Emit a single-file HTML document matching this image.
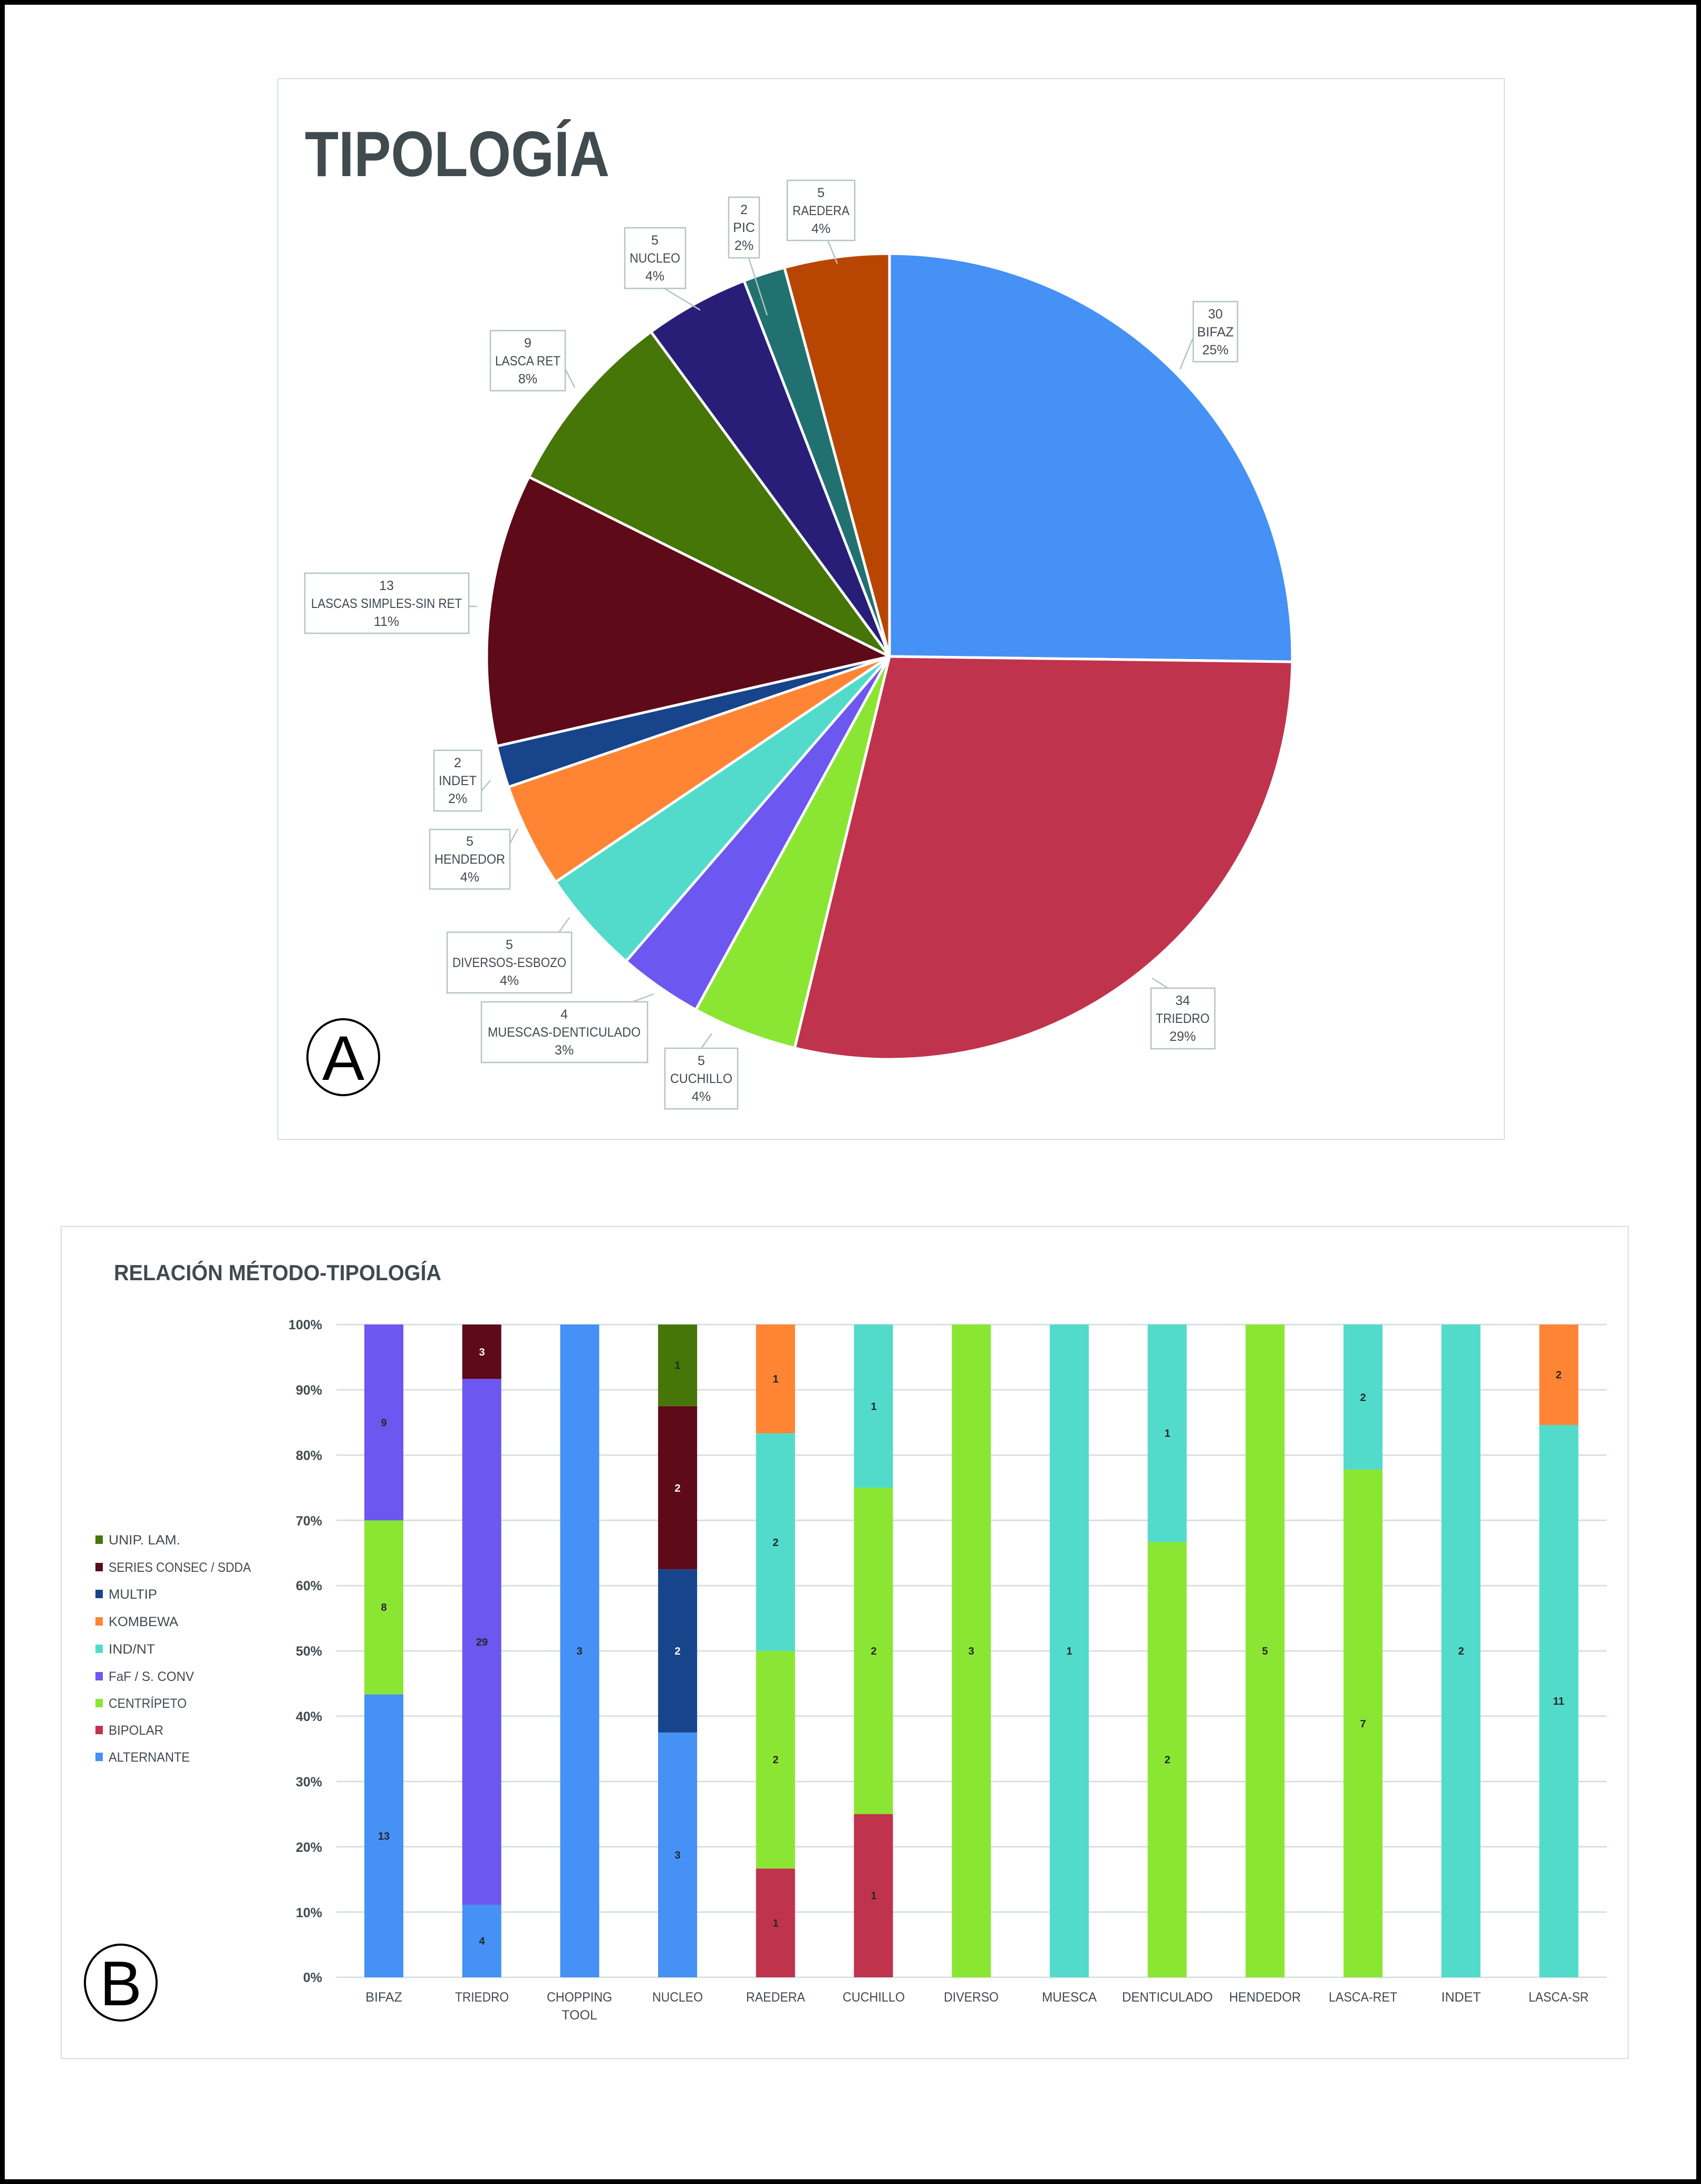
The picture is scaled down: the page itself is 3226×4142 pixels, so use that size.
<!DOCTYPE html>
<html><head><meta charset="utf-8"><style>
html,body{margin:0;padding:0;background:#fff}
svg{display:block}
.t{font-family:"Liberation Sans",sans-serif;fill:#404a4f}
.lb{font-family:"Liberation Sans",sans-serif;font-size:25px;fill:#404a4f;text-anchor:middle}
.bl{font-family:"Liberation Sans",sans-serif;font-size:20px;font-weight:bold;fill:#262626;text-anchor:middle}
.ax{font-family:"Liberation Sans",sans-serif;font-size:25px;font-weight:bold;fill:#404a4f}
</style></head><body>
<svg id="s" width="3226" height="4142" viewBox="0 0 3226 4142" xmlns="http://www.w3.org/2000/svg">
<rect x="4.5" y="4.5" width="3217" height="4133" fill="#fff" stroke="#000" stroke-width="9"/>
<rect x="527" y="149" width="2326" height="2012" fill="#fff" stroke="#d6dede" stroke-width="2"/>
<text class="t" x="578" y="334" font-size="122" font-weight="bold" textLength="578" lengthAdjust="spacingAndGlyphs">TIPOLOGÍA</text>
<g id="pie" stroke="#fff" stroke-width="5"></g>
<g fill="#fff" stroke="#b4c4c4" stroke-width="2.5" id="boxes">
<rect x="2263" y="572" width="84" height="114"/>
<rect x="2183" y="1874" width="121" height="115"/>
<rect x="1261" y="1988" width="138" height="115"/>
<rect x="913" y="1900" width="315" height="115"/>
<rect x="848" y="1768" width="236" height="115"/>
<rect x="815" y="1573" width="152" height="113"/>
<rect x="823" y="1423" width="90" height="115"/>
<rect x="578" y="1087" width="311" height="114"/>
<rect x="930" y="627" width="142" height="114"/>
<rect x="1185" y="432" width="115" height="115"/>
<rect x="1382" y="374" width="58" height="115"/>
<rect x="1493" y="342" width="128" height="114"/>
</g>
<g fill="none" stroke="#b4c4c4" stroke-width="2.5">
<polyline points="2263,640 2238,700"/>
<polyline points="2215,1874 2185,1855"/>
<polyline points="1330,1988 1350,1960"/>
<polyline points="1200,1900 1240,1885"/>
<polyline points="1060,1768 1080,1740"/>
<polyline points="967,1600 982,1572"/>
<polyline points="913,1500 930,1480"/>
<polyline points="889,1150 905,1150"/>
<polyline points="1072,700 1090,735"/>
<polyline points="1260,547 1328,588"/>
<polyline points="1420,489 1455,598"/>
<polyline points="1570,456 1588,500"/>
</g>
<g class="lb">
<text class="lb" x="2305" y="604">30</text><text class="lb" x="2305" y="638">BIFAZ</text><text class="lb" x="2305" y="672">25%</text>
<text class="lb" x="2243" y="1906">34</text><text class="lb" x="2243" y="1940" textLength="102" lengthAdjust="spacingAndGlyphs">TRIEDRO</text><text class="lb" x="2243" y="1974">29%</text>
<text class="lb" x="1330" y="2020">5</text><text class="lb" x="1330" y="2054" textLength="118" lengthAdjust="spacingAndGlyphs">CUCHILLO</text><text class="lb" x="1330" y="2088">4%</text>
<text class="lb" x="1070" y="1932">4</text><text class="lb" x="1070" y="1966" textLength="290" lengthAdjust="spacingAndGlyphs">MUESCAS-DENTICULADO</text><text class="lb" x="1070" y="2000">3%</text>
<text class="lb" x="966" y="1800">5</text><text class="lb" x="966" y="1834" textLength="216" lengthAdjust="spacingAndGlyphs">DIVERSOS-ESBOZO</text><text class="lb" x="966" y="1868">4%</text>
<text class="lb" x="891" y="1604">5</text><text class="lb" x="891" y="1638" textLength="134" lengthAdjust="spacingAndGlyphs">HENDEDOR</text><text class="lb" x="891" y="1672">4%</text>
<text class="lb" x="868" y="1455">2</text><text class="lb" x="868" y="1489" textLength="72" lengthAdjust="spacingAndGlyphs">INDET</text><text class="lb" x="868" y="1523">2%</text>
<text class="lb" x="733" y="1119">13</text><text class="lb" x="733" y="1153" textLength="286" lengthAdjust="spacingAndGlyphs">LASCAS SIMPLES-SIN RET</text><text class="lb" x="733" y="1187">11%</text>
<text class="lb" x="1001" y="659">9</text><text class="lb" x="1001" y="693" textLength="124" lengthAdjust="spacingAndGlyphs">LASCA RET</text><text class="lb" x="1001" y="727">8%</text>
<text class="lb" x="1242" y="464">5</text><text class="lb" x="1242" y="498" textLength="96" lengthAdjust="spacingAndGlyphs">NUCLEO</text><text class="lb" x="1242" y="532">4%</text>
<text class="lb" x="1411" y="406">2</text><text class="lb" x="1411" y="440">PIC</text><text class="lb" x="1411" y="474">2%</text>
<text class="lb" x="1557" y="374">5</text><text class="lb" x="1557" y="408" textLength="108" lengthAdjust="spacingAndGlyphs">RAEDERA</text><text class="lb" x="1557" y="442">4%</text>
</g>
<ellipse cx="651" cy="2005" rx="68" ry="72" fill="#fff" stroke="#000" stroke-width="4"/>
<text x="651" y="2048" font-family="Liberation Sans,sans-serif" font-size="120" text-anchor="middle" fill="#000">A</text>

<rect x="116" y="2326" width="2972" height="1578" fill="#fff" stroke="#d6dede" stroke-width="2"/>
<text class="t" x="216" y="2428" font-size="42" font-weight="bold" textLength="621" lengthAdjust="spacingAndGlyphs">RELACIÓN MÉTODO-TIPOLOGÍA</text>
<g id="grid" stroke="#d9e0e0" stroke-width="3"></g>
<g id="bars"></g>
<g>
<text class="bl" x="728" y="3489">13</text><text class="bl" x="728" y="3055">8</text><text class="bl" x="728" y="2705">9</text>
<text class="bl" x="914" y="3688">4</text><text class="bl" x="914" y="3121">29</text><text class="bl" x="914" y="2571" style="fill:#fff">3</text>
<text class="bl" x="1099" y="3138">3</text>
<text class="bl" x="1285" y="3525">3</text><text class="bl" x="1285" y="3138" style="fill:#fff">2</text><text class="bl" x="1285" y="2829" style="fill:#fff">2</text><text class="bl" x="1285" y="2596">1</text>
<text class="bl" x="1471" y="3654">1</text><text class="bl" x="1471" y="3344">2</text><text class="bl" x="1471" y="2932">2</text><text class="bl" x="1471" y="2622">1</text>
<text class="bl" x="1657" y="3602">1</text><text class="bl" x="1657" y="3138">2</text><text class="bl" x="1657" y="2674">1</text>
<text class="bl" x="1842" y="3138">3</text>
<text class="bl" x="2028" y="3138">1</text>
<text class="bl" x="2214" y="3344">2</text><text class="bl" x="2214" y="2725">1</text>
<text class="bl" x="2399" y="3138">5</text>
<text class="bl" x="2585" y="3276">7</text><text class="bl" x="2585" y="2657">2</text>
<text class="bl" x="2771" y="3138">2</text>
<text class="bl" x="2956" y="3233">11</text><text class="bl" x="2956" y="2614">2</text>
</g>
<g>
<text class="lb" x="728" y="3796">BIFAZ</text>
<text class="lb" x="914" y="3796" textLength="102" lengthAdjust="spacingAndGlyphs">TRIEDRO</text>
<text class="lb" x="1099" y="3796" textLength="124" lengthAdjust="spacingAndGlyphs">CHOPPING</text><text class="lb" x="1099" y="3830">TOOL</text>
<text class="lb" x="1285" y="3796" textLength="96" lengthAdjust="spacingAndGlyphs">NUCLEO</text>
<text class="lb" x="1471" y="3796" textLength="112" lengthAdjust="spacingAndGlyphs">RAEDERA</text>
<text class="lb" x="1657" y="3796" textLength="118" lengthAdjust="spacingAndGlyphs">CUCHILLO</text>
<text class="lb" x="1842" y="3796" textLength="104" lengthAdjust="spacingAndGlyphs">DIVERSO</text>
<text class="lb" x="2028" y="3796" textLength="104" lengthAdjust="spacingAndGlyphs">MUESCA</text>
<text class="lb" x="2214" y="3796" textLength="172" lengthAdjust="spacingAndGlyphs">DENTICULADO</text>
<text class="lb" x="2399" y="3796" textLength="136" lengthAdjust="spacingAndGlyphs">HENDEDOR</text>
<text class="lb" x="2585" y="3796" textLength="130" lengthAdjust="spacingAndGlyphs">LASCA-RET</text>
<text class="lb" x="2771" y="3796">INDET</text>
<text class="lb" x="2956" y="3796" textLength="114" lengthAdjust="spacingAndGlyphs">LASCA-SR</text>
</g>
<g font-family="Liberation Sans,sans-serif" font-size="25" fill="#404a4f">
<rect x="181" y="2912" width="14" height="16" fill="#467508"/><text x="206" y="2929" textLength="136" lengthAdjust="spacingAndGlyphs">UNIP. LAM.</text>
<rect x="181" y="2964" width="14" height="16" fill="#5f0a19"/><text x="206" y="2981" textLength="270" lengthAdjust="spacingAndGlyphs">SERIES CONSEC / SDDA</text>
<rect x="181" y="3015" width="14" height="16" fill="#17448a"/><text x="206" y="3032" textLength="92" lengthAdjust="spacingAndGlyphs">MULTIP</text>
<rect x="181" y="3067" width="14" height="16" fill="#ff8534"/><text x="206" y="3084" textLength="132" lengthAdjust="spacingAndGlyphs">KOMBEWA</text>
<rect x="181" y="3119" width="14" height="16" fill="#52dbcb"/><text x="206" y="3136" textLength="88" lengthAdjust="spacingAndGlyphs">IND/NT</text>
<rect x="181" y="3171" width="14" height="16" fill="#6c57f0"/><text x="206" y="3188" textLength="162" lengthAdjust="spacingAndGlyphs">FaF / S. CONV</text>
<rect x="181" y="3222" width="14" height="16" fill="#8be634"/><text x="206" y="3239" textLength="148" lengthAdjust="spacingAndGlyphs">CENTRÍPETO</text>
<rect x="181" y="3273" width="14" height="16" fill="#c0334d"/><text x="206" y="3290" textLength="104" lengthAdjust="spacingAndGlyphs">BIPOLAR</text>
<rect x="181" y="3324" width="14" height="16" fill="#4591f5"/><text x="206" y="3341" textLength="154" lengthAdjust="spacingAndGlyphs">ALTERNANTE</text>
</g>
<g class="ax" text-anchor="end">
<text class="ax" text-anchor="end" x="611" y="2521">100%</text><text class="ax" text-anchor="end" x="611" y="2645">90%</text><text class="ax" text-anchor="end" x="611" y="2769">80%</text>
<text class="ax" text-anchor="end" x="611" y="2893">70%</text><text class="ax" text-anchor="end" x="611" y="3016">60%</text><text class="ax" text-anchor="end" x="611" y="3140">50%</text>
<text class="ax" text-anchor="end" x="611" y="3264">40%</text><text class="ax" text-anchor="end" x="611" y="3388">30%</text><text class="ax" text-anchor="end" x="611" y="3512">20%</text>
<text class="ax" text-anchor="end" x="611" y="3636">10%</text><text class="ax" text-anchor="end" x="611" y="3759">0%</text>
</g>
<ellipse cx="229" cy="3760" rx="68" ry="72" fill="#fff" stroke="#000" stroke-width="4"/>
<text x="229" y="3803" font-family="Liberation Sans,sans-serif" font-size="120" text-anchor="middle" fill="#000">B</text>
</svg>
<script>
var NS="http://www.w3.org/2000/svg";
function el(p,t,a){var e=document.createElementNS(NS,t);for(var k in a)e.setAttribute(k,a[k]);p.appendChild(e);return e;}
var pv=[30,34,5,4,5,5,2,13,9,5,2,5],pc=["#4591f5","#c0334d","#8be634","#6c57f0","#52dbcb","#ff8534","#17448a","#5f0a19","#467508","#281e78","#217171","#b84602"];
var tot=119,cx=1687,cy=1245,r=764,a=-Math.PI/2,g=document.getElementById('pie');
pv.forEach(function(v,i){var b=a+v/tot*2*Math.PI;var x1=cx+r*Math.cos(a),y1=cy+r*Math.sin(a),x2=cx+r*Math.cos(b),y2=cy+r*Math.sin(b);
el(g,'path',{d:"M"+cx+","+cy+"L"+x1+","+y1+"A"+r+","+r+" 0 "+((b-a)>Math.PI?1:0)+" 1 "+x2+","+y2+"Z",fill:pc[i]});a=b;});
var gg=document.getElementById('grid');
for(var k=0;k<=10;k++){var y=3750-k*123.8;el(gg,'line',{x1:638,x2:3047,y1:y,y2:y});}
var C={A:"#4591f5",B:"#c0334d",C:"#8be634",F:"#6c57f0",I:"#52dbcb",K:"#ff8534",M:"#17448a",S:"#5f0a19",U:"#467508"};
var D=[[["A",13],["C",8],["F",9]],[["A",4],["F",29],["S",3]],[["A",3]],[["A",3],["M",2],["S",2],["U",1]],[["B",1],["C",2],["I",2],["K",1]],[["B",1],["C",2],["I",1]],[["C",3]],[["I",1]],[["C",2],["I",1]],[["C",5]],[["C",7],["I",2]],[["I",2]],[["I",11],["K",2]]];
var bg=document.getElementById('bars');
D.forEach(function(s,i){var t=0;s.forEach(function(q){t+=q[1];});var c=0,x=728+i*185.7-37;
s.forEach(function(q){var y0=3750-c/t*1238,y1=3750-(c+q[1])/t*1238;el(bg,'rect',{x:x,y:y1,width:74,height:y0-y1,fill:C[q[0]]});c+=q[1];});});
</script>
</body></html>
